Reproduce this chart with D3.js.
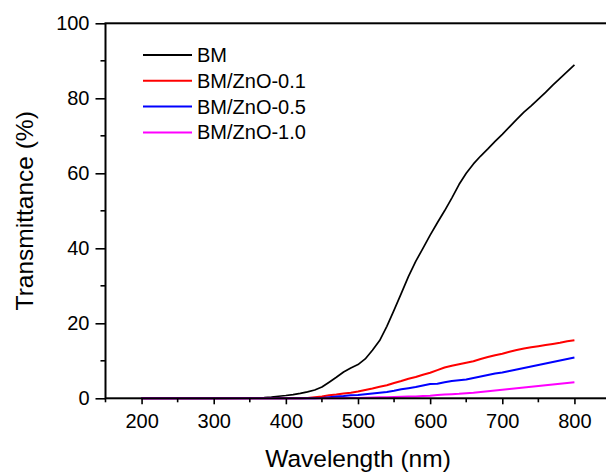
<!DOCTYPE html>
<html><head><meta charset="utf-8">
<script src="https://cdn.jsdelivr.net/npm/d3@7"></script>
<style>body{margin:0;background:#fff}svg{display:block}text{font-family:"Liberation Sans",Arial,sans-serif;fill:#000}</style>
</head><body><svg id="c" width="606" height="472"></svg>
<script>
const wavelengths = [200,250,300,350,360,370,380,390,400,410,420,430,440,450,460,470,480,490,500,510,520,530,540,550,560,570,580,590,600,610,620,630,640,650,660,670,680,690,700,710,720,730,740,750,760,770,780,790,800];
const bm =      [0,0,0,0.05,0.1,0.2,0.35,0.55,0.75,1.0,1.3,1.7,2.2,3.0,4.3,5.6,7.0,8.1,9.0,10.5,12.8,15.4,19.2,23.5,28.0,32.5,36.5,40.0,43.5,46.8,50.0,53.4,57.0,60.0,62.5,64.6,66.5,68.5,70.4,72.4,74.4,76.3,78.0,79.8,81.6,83.5,85.3,87.1,88.9];
const zno01 =   [0,0,0,0,0,0,0,0,0,0,0,0.1,0.3,0.5,0.8,1.0,1.3,1.5,1.8,2.2,2.6,3.1,3.5,4.1,4.6,5.2,5.7,6.3,6.8,7.5,8.2,8.7,9.1,9.5,9.9,10.5,11.0,11.5,11.9,12.4,12.9,13.3,13.6,13.9,14.2,14.5,14.8,15.2,15.5];
const zno05 =   [0,0,0,0,0,0,0,0,0,0,0,0,0,0.1,0.3,0.5,0.6,0.8,0.9,1.1,1.3,1.5,1.7,2.0,2.4,2.7,3.0,3.4,3.8,3.9,4.3,4.6,4.8,5.0,5.4,5.8,6.2,6.6,6.9,7.3,7.7,8.1,8.5,8.9,9.3,9.7,10.1,10.5,10.9];
const zno10 =   [0,0,0,0,0,0,0,0,0,0,0,0,0,0,0,0,0,0.05,0.1,0.15,0.2,0.25,0.3,0.35,0.4,0.45,0.5,0.6,0.7,0.85,1.0,1.1,1.2,1.35,1.5,1.7,1.9,2.1,2.3,2.5,2.7,2.9,3.1,3.3,3.5,3.7,3.9,4.1,4.3];
const seriesNames = ["BM","BM/ZnO-0.1","BM/ZnO-0.5","BM/ZnO-1.0"];
const seriesColors = ["#000000","#ff0000","#0000ff","#ff00ff"];
const xTicks = [200,300,400,500,600,700,800];
const xMinor = [150,250,350,450,550,650,750,850];
const yTicks = [0,20,40,60,80,100];
const yMinor = [10,30,50,70,90];

const svg = d3.select("#c");
const L = 105.5, R = 610.5, T = 23.3, B = 398.3;
const x = d3.scaleLinear().domain([150,850]).range([L,R]);
const y = d3.scaleLinear().domain([0,100]).range([B,T]);
const allSeries = [bm, zno01, zno05, zno10];

// data lines
const line = d3.line().x(d=>x(d[0])).y(d=>y(d[1]));
allSeries.forEach((s,i)=>{
  svg.append("path").datum(wavelengths.map((w,j)=>[w,s[j]]))
    .attr("d", line).attr("fill","none")
    .attr("stroke", seriesColors[i]).attr("stroke-width", i===0?1.7:2)
    .attr("stroke-linejoin","round");
});

// axes
const fs = "20px";
const gx = svg.append("g").attr("transform",`translate(0,${B})`)
  .call(d3.axisBottom(x).tickValues(xTicks).tickSize(6).tickPadding(10).tickFormat(d3.format("d")));
gx.selectAll("text").style("font-size",fs);
gx.append("g").selectAll("line").data(xMinor).join("line")
  .attr("x1",d=>x(d)).attr("x2",d=>x(d)).attr("y1",0).attr("y2",4).attr("stroke","#000").attr("stroke-width",1.6);

const gy = svg.append("g").attr("transform",`translate(${L},0)`)
  .call(d3.axisLeft(y).tickValues(yTicks).tickSize(10).tickPadding(6).tickFormat(d3.format("d")));
gy.selectAll("text").style("font-size",fs);
gy.append("g").selectAll("line").data(yMinor).join("line")
  .attr("y1",d=>y(d)).attr("y2",d=>y(d)).attr("x1",0).attr("x2",-5).attr("stroke","#000").attr("stroke-width",1.6);

[gx,gy].forEach(g=>{
  g.select(".domain").remove();
  g.selectAll(".tick line").attr("stroke-width",1.6);
});
// frame
svg.append("rect").attr("x",L).attr("y",T).attr("width",R-L).attr("height",B-T)
  .attr("fill","none").attr("stroke","#000").attr("stroke-width",2);

// titles
svg.append("text").attr("x",(L+R)/2).attr("y",467).attr("text-anchor","middle")
  .style("font-size","24.5px").text("Wavelength (nm)");
svg.append("text").attr("transform",`translate(33,${(T+B)/2}) rotate(-90)`).attr("text-anchor","middle")
  .style("font-size","24.5px").text("Transmittance (%)");

// legend
const lg = svg.append("g");
seriesNames.forEach((n,i)=>{
  const yy = 55 + i*25.8;
  lg.append("line").attr("x1",143).attr("x2",192).attr("y1",yy).attr("y2",yy)
    .attr("stroke",seriesColors[i]).attr("stroke-width",2);
  lg.append("text").attr("x",197).attr("y",yy).attr("dy","0.35em").style("font-size","20px").text(n);
});
</script></body></html>
